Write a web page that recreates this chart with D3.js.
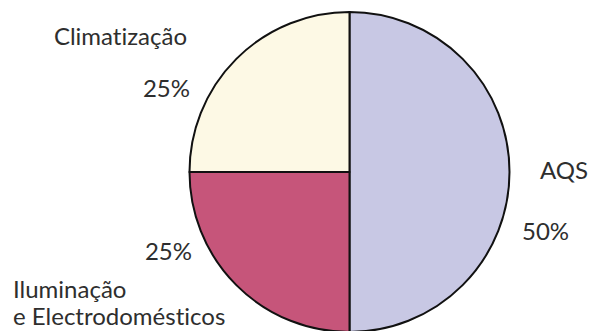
<!DOCTYPE html>
<html>
<head>
<meta charset="utf-8">
<script src="https://cdn.jsdelivr.net/npm/d3@7"></script>
<style>
  body { margin: 0; background: #fff; }
  text { font-family: Lato, "Open Sans", sans-serif; fill: #2e2e2e; font-variant-ligatures: none; }
</style>
</head>
<body>
<div id="chart"></div>
<script>
// pie values, clockwise from 12 o'clock
var categories = ["AQS", "Iluminação e Electrodomésticos", "Climatização"];
var shares = [50, 25, 25];
var colors = ["#c8c8e4", "#c6557a", "#fdf9e5"];

var svgWidth = 592, svgHeight = 331;
var cx = 349.5, cy = 172, radius = 160;

var svg = d3.select("#chart")
    .append("svg")
    .attr("width", svgWidth)
    .attr("height", svgHeight);

var pie = d3.pie().sort(null).value(function(d) { return d; });
var arc = d3.arc().innerRadius(0).outerRadius(radius);

var g = svg.append("g").attr("transform", "translate(" + cx + "," + cy + ")");

g.selectAll("path")
    .data(pie(shares))
    .enter()
    .append("path")
    .attr("d", arc)
    .attr("fill", function(d, i) { return colors[i]; })
    .attr("stroke", "#111")
    .attr("stroke-width", 2)
    .attr("stroke-linejoin", "round");

// label placement (relative to pie centre), tuned by eye
var labels = [
  { lines: ["AQS"], pct: "50%", nx: 190.5, ny: 7, px: 172.5, py: 68, anchor: "start" },
  { lines: ["Iluminação", "e Electrodomésticos"], pct: "25%", nx: -336.5, ny: 126, px: -157.5, py: 88, anchor: "start", pAnchor: "end" },
  { lines: ["Climatização"], pct: "25%", nx: -162.5, ny: -127, px: -159.5, py: -75, anchor: "end" }
];

labels.forEach(function(l, i) {
  var t = g.append("text")
    .attr("x", l.nx).attr("y", l.ny)
    .attr("text-anchor", l.anchor)
    .style("font-size", "24px");
  l.lines.forEach(function(line, k) {
    t.append("tspan").attr("x", l.nx).attr("dy", k === 0 ? 0 : 27).text(line);
  });
  g.append("text")
    .attr("x", l.px).attr("y", l.py)
    .attr("text-anchor", l.pAnchor || l.anchor)
    .style("font-size", "24px")
    .text(l.pct);
});
</script>
</body>
</html>
